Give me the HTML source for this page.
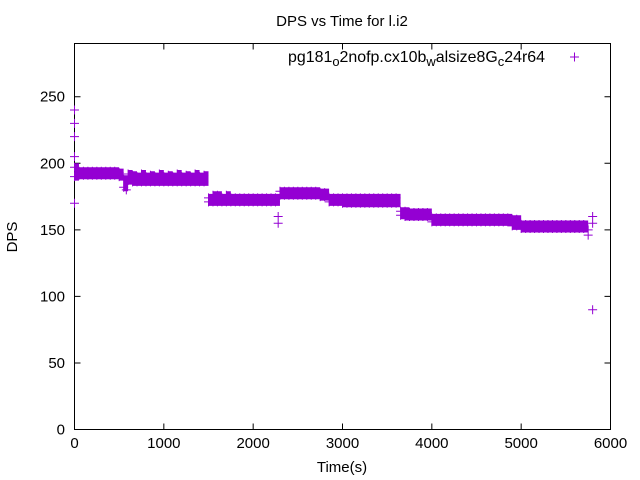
<!DOCTYPE html>
<html><head><meta charset="utf-8"><style>
body{margin:0;background:#fff;}
svg{display:block;font-family:"Liberation Sans",sans-serif;}
</style></head><body>
<svg id="chart" width="640" height="480" viewBox="0 0 640 480">
<rect width="640" height="480" fill="#fff"/>
<text x="342" y="26" text-anchor="middle" font-size="15">DPS vs Time for l.i2</text>
<rect x="74.5" y="43.5" width="536" height="386" fill="none" stroke="#000" stroke-width="1"/>
<g id="ticks"></g>
<text x="17" y="237" font-size="15" text-anchor="middle" transform="rotate(-90 17 237)">DPS</text>
<text x="342" y="472" font-size="15" text-anchor="middle">Time(s)</text>
<g>
<text x="288" y="62" font-size="16" textLength="257" lengthAdjust="spacingAndGlyphs">pg181<tspan font-size="13" dy="4">o</tspan><tspan dy="-4">2nofp.cx10b</tspan><tspan font-size="13" dy="4">w</tspan><tspan dy="-4">alsize8G</tspan><tspan font-size="13" dy="4">c</tspan><tspan dy="-4">24r64</tspan></text>
<path d="M570 57h9M574.5 52.5v9" stroke="#9400d3" stroke-width="1"/>
</g>
<g id="marks"></g>
</svg>
<script>
const times=[0,50,100,150,200,250,300,350,400,450,500,550,600,650,700,750,800,850,900,950,1000,1050,1100,1150,1200,1250,1300,1350,1400,1450,1500,1550,1600,1650,1700,1750,1800,1850,1900,1950,2000,2050,2100,2150,2200,2250,2300,2350,2400,2450,2500,2550,2600,2650,2700,2750,2800,2850,2900,2950,3000,3050,3100,3150,3200,3250,3300,3350,3400,3450,3500,3550,3600,3650,3700,3750,3800,3850,3900,3950,4000,4050,4100,4150,4200,4250,4300,4350,4400,4450,4500,4550,4600,4650,4700,4750,4800,4850,4900,4950,5000,5050,5100,5150,5200,5250,5300,5350,5400,5450,5500,5550,5600,5650,5700,5750,5800];
const hiVals=[197,194,194,194,194,194,194,194,194,194,193,188,192,191,190,192,190,191,190,192,190,191,190,192,190,191,190,192,190,191,174,176,176,174,176,174,174,174,174,174,174,174,174,174,174,174,179,179,179,179,179,179,179,179,179,178,178,174,174,174,174,174,174,174,174,174,174,174,174,174,174,174,174,164,164,163,163,163,163,163,159,159,159,159,159,159,159,159,159,159,159,159,159,159,159,159,159,159,158,158,154,154,154,154,154,154,154,154,154,154,154,154,154,154,154,150,160];
const loVals=[190,191,191,191,191,191,191,191,191,191,190,182,187,186,186,186,186,186,186,186,186,186,186,186,186,186,186,186,186,186,171,171,171,171,171,171,171,171,171,171,171,171,171,171,171,171,176,176,176,176,176,176,176,176,176,175,175,171,171,171,170,170,170,170,170,170,170,170,170,170,170,170,170,161,160,160,160,160,160,160,156,156,156,156,156,156,156,156,156,156,156,156,156,156,156,156,156,156,153,153,151,151,151,151,151,151,151,151,151,151,151,151,151,151,151,146,155];
const outT=[0,0,0,0,0,2280,2280,580,5800];
const outV=[240,230,220,205,170,160,155,180,90];
const xTicks=[0,1000,2000,3000,4000,5000,6000];
const yTicks=[0,50,100,150,200,250];
const X0=74.5,X1=610.5,Y0=429.5,Y1=43.5,XMAX=6000,YMAX=290;
const xs=t=>X0+t/XMAX*(X1-X0);
const ys=v=>Y0-v/YMAX*(Y0-Y1);
const NS="http://www.w3.org/2000/svg";
const tg=document.getElementById('ticks');
function mk(tag,attrs,parent){const e=document.createElementNS(NS,tag);for(const k in attrs)e.setAttribute(k,attrs[k]);parent.appendChild(e);return e;}
xTicks.forEach(t=>{
  const x=xs(t);
  const l=mk('path',{d:`M${x} ${Y0}v-6M${x} ${Y1}v6`,stroke:'#000'},tg);
  
  
  const tx=mk('text',{x:x,y:448,'font-size':15,'text-anchor':'middle'},tg);
  tx.textContent=t;
  
  
});
yTicks.forEach(v=>{
  const y=ys(v);
  const l=mk('path',{d:`M${X0} ${y}h6M${X1} ${y}h-6`,stroke:'#000'},tg);
  
  
  const tx=mk('text',{x:65,y:y+5,'font-size':15,'text-anchor':'end'},tg);
  tx.textContent=v;
  
  
});
const mg=document.getElementById('marks');
let d='';
let fill='';
function cross(t,v){const x=xs(t),y=ys(v);d+=`M${x-4.5} ${y}h9M${x} ${y-4.5}v9`;}
times.forEach((t,i)=>{
  cross(t,hiVals[i]);cross(t,loVals[i]);
  if(i<times.length-2){
    const x0=xs(t),x1=xs(times[i+1]);
    const tb=ys(hiVals[i])-4, bb=ys(loVals[i])+4;
    fill+=`M${x0} ${tb}H${x1}V${bb}H${x0}Z`;
  }
});
outT.forEach((t,i)=>cross(t,outV[i]));
const f=mk('path',{d:fill,fill:'#9400d3',stroke:'none'},mg);


const p=mk('path',{d:d,stroke:'#9400d3','stroke-width':1,fill:'none'},mg);


</script>
</body></html>
